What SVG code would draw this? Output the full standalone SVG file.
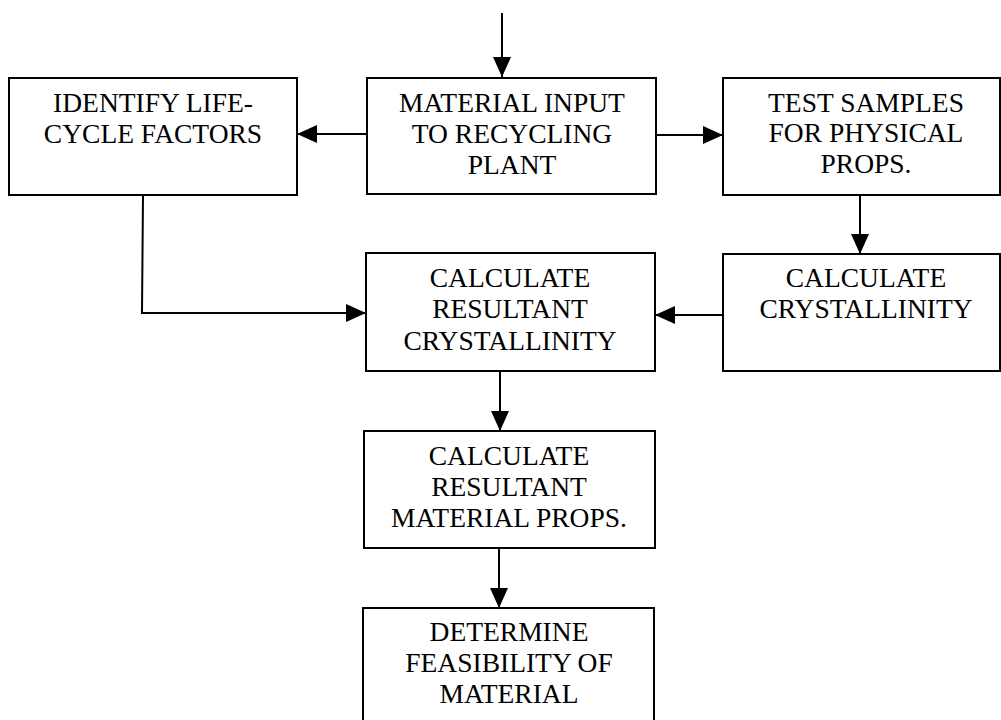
<svg xmlns="http://www.w3.org/2000/svg" width="1001" height="720" viewBox="0 0 1001 720">
  <style>
    .box { fill: #ffffff; stroke: #000000; stroke-width: 2; }
    .lbl { font-family: "Liberation Serif", "Times New Roman", serif; font-size: 27.5px; fill: #000000; text-anchor: middle; }
    .wire { fill: none; stroke: #000000; stroke-width: 2; }
  </style>
  <defs>
    <marker id="head" viewBox="0 0 20 18" refX="20" refY="9" markerWidth="20" markerHeight="18" markerUnits="userSpaceOnUse" orient="auto">
      <path d="M0,0 L20,9 L0,18 Z" fill="#000000"/>
    </marker>
  </defs>
  <rect width="1001" height="720" fill="#ffffff"/>

  <g id="connectors">
    <path class="wire" d="M502,13 L502,77" marker-end="url(#head)"/>
    <path class="wire" d="M367,134 L297,134" marker-end="url(#head)"/>
    <path class="wire" d="M656,135 L723,135" marker-end="url(#head)"/>
    <path class="wire" d="M860,195 L860,254" marker-end="url(#head)"/>
    <path class="wire" d="M143,195 L142,313 L366,313" marker-end="url(#head)"/>
    <path class="wire" d="M723,315 L655,315" marker-end="url(#head)"/>
    <path class="wire" d="M500,371 L500,431" marker-end="url(#head)"/>
    <path class="wire" d="M499,548 L499,608" marker-end="url(#head)"/>
  </g>

  <g id="identify-life-cycle">
    <rect class="box" x="9" y="78" width="288" height="117"/>
    <text class="lbl" x="153" y="112">IDENTIFY LIFE-</text>
    <text class="lbl" x="153" y="143">CYCLE FACTORS</text>
  </g>

  <g id="material-input">
    <rect class="box" x="367" y="78" width="289" height="116"/>
    <text class="lbl" x="512" y="112">MATERIAL INPUT</text>
    <text class="lbl" x="512" y="143">TO RECYCLING</text>
    <text class="lbl" x="512" y="174">PLANT</text>
  </g>

  <g id="test-samples">
    <rect class="box" x="723" y="78" width="277" height="117"/>
    <text class="lbl" x="866" y="112">TEST SAMPLES</text>
    <text class="lbl" x="866" y="142">FOR PHYSICAL</text>
    <text class="lbl" x="866" y="173">PROPS.</text>
  </g>

  <g id="calc-resultant-crystallinity">
    <rect class="box" x="366" y="253" width="289" height="118"/>
    <text class="lbl" x="510" y="287">CALCULATE</text>
    <text class="lbl" x="510" y="318">RESULTANT</text>
    <text class="lbl" x="510" y="350">CRYSTALLINITY</text>
  </g>

  <g id="calc-crystallinity">
    <rect class="box" x="723" y="254" width="277" height="117"/>
    <text class="lbl" x="866" y="287">CALCULATE</text>
    <text class="lbl" x="866" y="318">CRYSTALLINITY</text>
  </g>

  <g id="calc-material-props">
    <rect class="box" x="364" y="431" width="291" height="117"/>
    <text class="lbl" x="509" y="465">CALCULATE</text>
    <text class="lbl" x="509" y="496">RESULTANT</text>
    <text class="lbl" x="509" y="527">MATERIAL PROPS.</text>
  </g>

  <g id="determine-feasibility">
    <rect class="box" x="363" y="608" width="291" height="130"/>
    <text class="lbl" x="509" y="641">DETERMINE</text>
    <text class="lbl" x="509" y="672">FEASIBILITY OF</text>
    <text class="lbl" x="509" y="703">MATERIAL</text>
  </g>
</svg>
